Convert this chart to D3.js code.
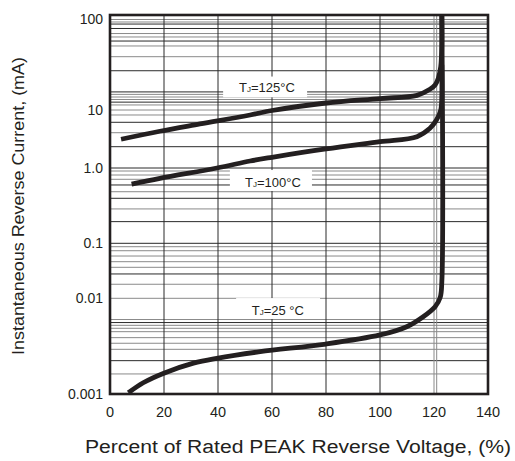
<!DOCTYPE html>
<html><head><meta charset="utf-8">
<script src="https://cdn.jsdelivr.net/npm/d3@7"></script>
<style>body{margin:0;background:#fff}svg{display:block}</style>
</head><body>
<svg id="c" width="515" height="461"></svg>
<script>
// ---------- data ----------
const xTicks = [0, 20, 40, 60, 80, 100, 120, 140];
const yTickValues = [0.001, 0.01, 0.1, 1, 10, 100];
const yTickLabels = ["0.001", "0.01", "0.1", "1.0", "10", "100"];

const xGridDark = [20, 40, 60, 80, 100];
const xGridGray = [120, 121];

const yGridDark = [100, 80.3, 72.1, 53.2, 25.9, 15.5, 12.1, 6.14, 2.33, 1, 0.595, 0.396, 0.194, 0.1, 0.0277, 0.00558, 0.00223];
const yGridGray = [89.7, 84.4, 63.8, 58.7, 47.2, 36.4, 14.6, 13.7, 12.9, 11.3, 10, 8.2, 4.06,
  0.912, 0.807, 0.708, 0.484, 0.286, 0.0867, 0.0733, 0.0587, 0.0463, 0.0366, 0.018, 0.01,
  0.006, 0.00522, 0.00486, 0.00448, 0.00388, 0.00339, 0.00293, 0.00162];

// Percent of rated peak reverse voltage (x) and reverse current in mA (y)
const t125V = [4.1, 18.5, 33.3, 51.9, 60, 80, 100, 113.7, 118.5, 120.4, 121.6, 122.5, 122.9, 122.9];
const t125I = [3.13, 4.3, 5.74, 8.2, 9.8, 11.85, 13.2, 14.27, 16.5, 18.3, 21.6, 28.6, 50, 100];

const t100V = [8, 18.5, 39.6, 51.9, 60, 80, 100, 113.7, 118.5, 120.9, 122.5, 122.9, 122.9];
const t100I = [0.61, 0.73, 1.0, 1.32, 1.53, 2.13, 2.84, 3.47, 4.83, 6.7, 10, 14, 30];

const t25V = [6.8, 12.3, 19.7, 30.9, 39.5, 55.6, 80, 100, 109.9, 116, 120.4, 122.3, 122.9, 122.9];
const t25I = [0.00103, 0.00131, 0.00164, 0.0021, 0.00236, 0.00277, 0.00333, 0.00414, 0.00505, 0.00642, 0.00817, 0.0104, 0.02, 100];

const labelTexts = ["=125°C", "=100°C", "=25 °C"];

// ---------- layout ----------
const svg = d3.select("#c");
const L = 110, R = 488, T = 15, B = 394;
const ink = "#231f20";
const font = "'Liberation Sans', Arial, Helvetica, sans-serif";

const x = d3.scaleLinear().domain([0, 140]).range([L, R]);
// log axis whose decades are unevenly spaced in the original print
const yLog = d3.scaleLinear().domain([-3, -2, -1, 0, 1, 2]).range([B, 298.3, 243.3, 168, 110, T]);
const y = v => yLog(Math.log10(v));

// grid
const g = svg.append("g");
g.selectAll(".hg").data(yGridGray).join("line")
  .attr("x1", L).attr("x2", R).attr("y1", d => y(d)).attr("y2", d => y(d))
  .attr("stroke", "#8a8a8a").attr("stroke-width", 1);
g.selectAll(".hd").data(yGridDark).join("line")
  .attr("x1", L).attr("x2", R).attr("y1", d => y(d)).attr("y2", d => y(d))
  .attr("stroke", "#2a2a2a").attr("stroke-width", 1);
g.selectAll(".vg").data(xGridGray).join("line")
  .attr("x1", d => x(d)).attr("x2", d => x(d)).attr("y1", T).attr("y2", B)
  .attr("stroke", "#8a8a8a").attr("stroke-width", 1);
g.selectAll(".vd").data(xGridDark).join("line")
  .attr("x1", d => x(d)).attr("x2", d => x(d)).attr("y1", T).attr("y2", B)
  .attr("stroke", "#2a2a2a").attr("stroke-width", 1);

// label boxes (in data coordinates)
const boxes = [
  {x0: 41.9, x1: 73, y0: 22.5, y1: 13.6, tx: 47.8, ty: 15.5},
  {x0: 44.4, x1: 74.8, y0: 0.94, y1: 0.495, tx: 50, ty: 0.565},
  {x0: 46.7, x1: 77.8, y0: 0.0101, y1: 0.00608, tx: 52.5, ty: 0.0067}
];
boxes.forEach((b, i) => {
  svg.append("rect").attr("x", x(b.x0)).attr("y", y(b.y0))
    .attr("width", x(b.x1) - x(b.x0)).attr("height", y(b.y1) - y(b.y0)).attr("fill", "#fff");
  const t = svg.append("text").attr("x", x(b.tx)).attr("y", y(b.ty))
    .attr("font-family", font).attr("font-size", 13).attr("fill", ink);
  t.append("tspan").text("T");
  t.append("tspan").attr("font-size", 8).text("J");
  t.append("tspan").text(labelTexts[i]);
});

// curves
svg.append("clipPath").attr("id", "clip").append("rect")
  .attr("x", L).attr("y", T).attr("width", R - L).attr("height", B - T);
const line = d3.line().x(d => x(d[0])).y(d => y(d[1])).curve(d3.curveCatmullRom.alpha(0.5));
const series = [d3.zip(t125V, t125I), d3.zip(t100V, t100I), d3.zip(t25V, t25I)];
svg.append("g").attr("clip-path", "url(#clip)").selectAll("path").data(series).join("path")
  .attr("d", line).attr("fill", "none").attr("stroke", ink)
  .attr("stroke-width", 4.8).attr("stroke-linecap", "butt").attr("stroke-linejoin", "round");

// frame
svg.append("rect").attr("x", L).attr("y", T).attr("width", R - L).attr("height", B - T)
  .attr("fill", "none").attr("stroke", ink).attr("stroke-width", 2.6);

// axes labels
svg.append("g").selectAll("text").data(xTicks).join("text")
  .attr("x", d => x(d)).attr("y", 417).attr("text-anchor", "middle")
  .attr("font-family", font).attr("font-size", 14.5).attr("fill", ink).text(d => d);
svg.append("g").selectAll("text").data(yTickValues).join("text")
  .attr("x", 103).attr("y", d => Math.max(y(d), T + 4) + 5).attr("text-anchor", "end")
  .attr("font-family", font).attr("font-size", 14).attr("fill", ink)
  .text((d, i) => yTickLabels[i]);

svg.append("text").attr("x", 85).attr("y", 453)
  .attr("textLength", 426).attr("lengthAdjust", "spacingAndGlyphs")
  .attr("font-family", font).attr("font-size", 18).attr("fill", ink)
  .text("Percent of Rated PEAK Reverse Voltage, (%)");
svg.append("text").attr("transform", "translate(24,206) rotate(-90)").attr("text-anchor", "middle")
  .attr("textLength", 298).attr("lengthAdjust", "spacingAndGlyphs")
  .attr("font-family", font).attr("font-size", 17).attr("fill", ink)
  .text("Instantaneous Reverse Current, (mA)");
</script>
</body></html>
